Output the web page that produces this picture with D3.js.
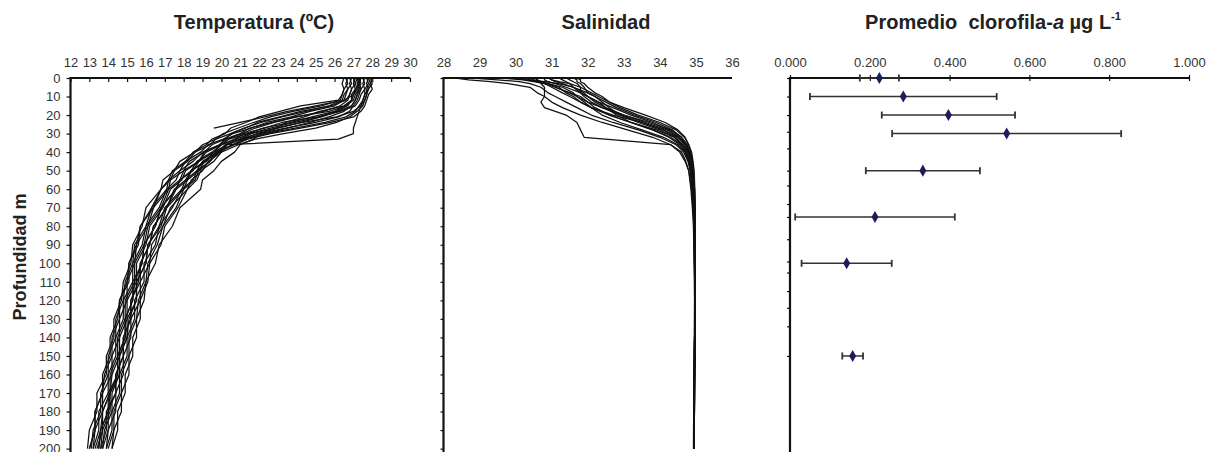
<!DOCTYPE html>
<html><head><meta charset="utf-8">
<script src="https://cdn.jsdelivr.net/npm/d3@7"></script>
<style>
body{margin:0;background:#fff;}
svg{display:block;font-family:"Liberation Sans",Arial,sans-serif;}
</style></head><body>
<svg id="c" width="1211" height="452"></svg>
<script>
// ---------- DATA ----------
const depthTicks = [0,10,20,30,40,50,60,70,80,90,100,110,120,130,140,150,160,170,180,190,200];
const tempTicks = [12,13,14,15,16,17,18,19,20,21,22,23,24,25,26,27,28,29,30];
const salTicks = [28,29,30,31,32,33,34,35,36];
const chlTicks = [0,0.2,0.4,0.6,0.8,1.0];
const chlDepthTicks = [0,10,20,29,38,50,58,68,75,87,99,105,115,124,134,150];

const depthT = [0,3,6,9,12,15,18,21,24,27,30,33,36,40,45,50,55,60,70,80,90,100,110,120,130,140,150,160,170,180,190,200];
const tempProfiles = [
 [26.6,26.7,26.5,26.4,26.2,24.2,23.1,22.0,21.3,20.5,20.2,19.5,19.2,18.5,18.1,17.4,17.2,16.8,16.3,15.7,15.5,15.1,15.1,14.6,14.6,14.2,14.2,13.8,13.7,13.3,13.3,13.0],
 [27.0,27.1,26.9,26.8,26.6,25.8,24.2,23.1,21.9,21.3,20.5,20.2,19.5,19.1,18.3,18.0,17.3,17.2,16.4,16.1,15.5,15.4,15.0,15.0,14.6,14.6,14.2,14.2,13.7,13.7,13.3,13.2],
 [27.3,27.2,27.3,27.1,27.0,26.6,25.7,23.9,22.7,21.5,21.0,20.2,19.9,19.1,18.8,18.0,17.8,17.2,16.8,16.1,15.9,15.4,15.4,14.9,14.9,14.5,14.5,14.1,14.1,13.7,13.6,13.3],
 [27.6,27.5,27.6,27.4,27.3,27.1,26.3,25.1,23.2,22.3,21.2,20.7,20.0,19.6,18.8,18.5,17.8,17.6,16.8,16.5,15.9,15.8,15.3,15.3,14.9,14.9,14.5,14.5,14.1,14.0,13.6,13.5],
 [27.9,28.0,27.8,27.7,27.6,27.4,27.0,26.1,24.3,22.9,21.6,21.0,20.2,19.8,19.0,18.7,18.1,17.9,17.0,16.7,16.1,16.0,15.5,15.5,15.1,15.0,14.6,14.6,14.2,14.2,13.8,13.7],
 [27.8,27.7,27.8,27.6,27.5,27.4,27.3,27.2,27.1,27.0,27.0,26.2,20.3,20.0,19.3,19.0,18.4,18.2,17.3,16.9,16.3,16.2,15.7,15.7,15.2,15.2,14.8,14.8,14.4,14.4,14.0,13.9],
 [27.2,27.3,27.1,27.0,26.9,26.5,25.2,24.4,23.4,22.9,22.1,21.7,21.0,20.7,20.0,19.6,19.0,18.9,17.8,17.4,16.7,16.5,16.0,15.9,15.5,15.5,15.1,15.1,14.7,14.7,14.3,14.2],
 [27.4,27.3,27.2,27.0,26.5,25.0,23.5,22.3,21.0,19.6,null,null,null,null,null,null,null,null,null,null,null,null,null,null,null,null,null,null,null,null,null,null],
 [26.8,26.9,26.7,26.6,26.5,26.0,24.7,23.7,22.4,21.6,20.6,20.1,19.3,18.9,18.1,17.8,17.2,17.1,16.3,16.0,15.4,15.3,14.9,14.8,14.4,14.4,14.0,14.0,13.6,13.6,13.2,13.1],
 [27.1,27.0,27.1,26.9,26.9,26.6,26.0,24.8,23.7,22.2,21.4,20.4,20.0,19.2,18.8,18.1,17.9,17.3,16.9,16.2,16.0,15.5,15.5,15.0,15.0,14.6,14.6,14.2,14.1,13.7,13.7,13.4],
 [27.5,27.6,27.4,27.3,27.2,27.0,26.8,26.2,25.0,23.4,22.0,21.0,20.3,19.6,19.1,18.4,18.1,17.5,17.1,16.4,16.2,15.7,15.6,15.2,15.2,14.8,14.8,14.4,14.4,13.9,13.9,13.6],
 [28.0,27.9,28.0,27.8,27.7,27.6,27.4,27.0,25.8,24.2,22.6,21.4,20.7,19.8,19.4,18.7,18.5,17.9,17.4,16.7,16.5,15.9,15.9,15.4,15.4,15.0,15.0,14.6,14.6,14.2,14.2,13.9],
 [26.5,26.4,26.5,26.4,26.3,25.3,23.8,22.6,21.7,20.9,20.1,19.7,19.0,18.6,17.8,17.5,16.9,16.8,16.0,15.8,15.3,15.2,14.8,14.7,14.3,14.3,13.9,13.9,13.4,13.4,13.0,12.9],
 [27.4,27.3,27.4,27.2,27.1,26.9,26.2,25.3,24.2,23.0,21.9,21.1,20.3,19.9,19.1,18.8,18.2,18.0,17.1,16.8,16.1,16.0,15.5,15.5,15.0,15.0,14.6,14.6,14.1,14.1,13.7,13.6],
 [27.7,27.8,27.6,27.6,27.5,27.3,27.1,26.6,25.5,23.9,22.4,21.3,20.6,19.7,19.2,18.4,18.2,17.6,17.1,16.4,16.2,15.7,15.7,15.2,15.2,14.8,14.8,14.4,14.4,14.0,14.0,13.7],
 [26.9,26.8,26.9,26.8,26.7,26.3,25.4,24.0,22.8,21.8,21.1,20.3,19.9,19.0,18.5,17.8,17.6,17.1,16.7,16.0,15.8,15.3,15.3,14.8,14.8,14.4,14.4,14.0,14.0,13.5,13.5,13.2],
 [27.3,27.4,27.3,27.2,27.1,26.9,26.5,25.7,24.7,23.5,22.3,21.2,20.6,19.8,19.4,18.8,18.6,18.0,17.6,16.9,16.6,16.1,16.0,15.6,15.5,15.1,15.1,14.7,14.7,14.3,14.3,14.0],
 [27.8,27.9,27.7,27.7,27.6,27.5,27.2,26.8,26.1,25.0,23.3,21.8,20.9,20.0,19.6,18.9,18.7,18.2,17.7,17.0,16.8,16.2,16.1,15.7,15.7,15.3,15.3,14.9,14.9,14.5,14.5,14.2],
 [26.7,26.6,26.7,26.5,26.4,25.7,24.5,23.2,22.1,21.2,20.5,19.7,19.4,18.6,18.2,17.5,17.3,16.8,16.4,15.7,15.6,15.1,15.0,14.6,14.5,14.1,14.1,13.7,13.7,13.3,13.3,13.0],
 [27.2,27.1,27.2,27.0,26.9,26.7,26.1,25.2,23.9,22.6,21.5,20.8,20.0,19.5,18.7,18.4,17.8,17.6,16.8,16.5,15.9,15.8,15.4,15.3,14.9,14.9,14.5,14.5,14.0,14.0,13.6,13.5]
];

const depthS = [0,1,2,3,5,8,10,13,16,20,24,28,32,36,40,45,50,60,70,80,100,120,150,200];
const salProfiles = [
 [28.3,28.7,29.3,29.8,30.4,30.6,30.8,31.0,31.3,31.8,32.4,33.1,33.8,34.3,34.6,34.72,34.8,34.86,34.9,34.93,34.95,34.96,34.95,34.93],
 [28.7,29.5,30.1,30.4,30.7,30.9,31.1,31.4,31.7,32.1,32.7,33.4,34.0,34.45,34.66,34.78,34.84,34.9,34.93,34.95,34.96,34.97,34.96,34.95],
 [29.6,30.2,30.5,30.8,31.0,31.3,31.5,31.8,32.1,32.6,33.2,33.8,34.25,34.55,34.7,34.8,34.85,34.9,34.93,34.95,34.96,34.97,34.96,34.94],
 [30.5,30.6,30.7,30.9,31.1,31.5,31.7,32.0,32.4,32.9,33.5,34.1,34.45,34.62,34.75,34.83,34.88,34.92,34.95,34.96,34.97,34.97,34.96,34.95],
 [30.8,30.8,30.9,31.1,31.4,31.8,32.0,32.3,32.7,33.2,33.8,34.25,34.52,34.7,34.8,34.86,34.9,34.95,34.97,34.98,34.98,34.98,34.97,34.95],
 [30.6,30.6,30.7,30.7,30.8,30.8,30.8,30.7,30.8,31.4,31.7,31.8,31.9,34.3,34.55,34.7,34.8,34.88,34.92,34.95,34.96,34.97,34.96,34.94],
 [31.0,31.0,31.1,31.3,31.6,32.0,32.2,32.5,32.8,33.3,33.9,34.35,34.6,34.75,34.83,34.88,34.92,34.96,34.97,34.98,34.98,34.98,34.97,34.95],
 [30.9,31.0,31.2,31.5,31.8,32.1,32.3,32.6,33.0,33.6,34.15,34.5,34.7,34.8,34.86,34.9,34.93,34.96,34.97,34.98,34.98,34.98,34.97,34.95],
 [30.4,30.5,30.6,30.8,31.1,31.5,31.8,32.0,32.2,32.6,33.2,33.9,34.4,34.65,34.78,34.85,34.9,34.94,34.96,34.97,34.97,34.97,34.96,34.94],
 [31.6,31.7,31.7,31.8,31.9,32.0,32.2,32.4,32.6,32.9,33.4,34.0,34.4,34.6,34.72,34.8,34.86,34.92,34.95,34.96,34.97,34.97,34.96,34.95],
 [31.7,31.8,31.8,31.9,32.0,32.2,32.4,32.6,32.9,33.4,34.0,34.45,34.68,34.8,34.88,34.92,34.95,34.97,34.98,34.98,34.98,34.98,34.97,34.95],
 [30.3,30.4,30.6,30.9,31.3,31.6,31.7,31.9,32.1,32.4,32.9,33.5,34.1,34.5,34.7,34.8,34.85,34.9,34.93,34.95,34.96,34.97,34.96,34.94],
 [29.9,30.3,30.6,30.9,31.2,31.4,31.6,31.8,32.1,32.7,33.5,34.1,34.5,34.7,34.8,34.86,34.9,34.93,34.95,34.96,34.97,34.97,34.96,34.94],
 [31.2,31.3,31.4,31.5,31.6,31.8,32.0,32.3,32.5,32.8,33.2,33.8,34.3,34.6,34.75,34.82,34.88,34.93,34.95,34.96,34.97,34.97,34.96,34.95],
 [30.2,30.4,30.8,31.2,31.6,31.9,32.0,32.2,32.5,33.0,33.6,34.2,34.55,34.72,34.82,34.88,34.92,34.95,34.96,34.97,34.97,34.97,34.96,34.95],
 [31.4,31.5,31.6,31.7,31.8,31.8,31.9,32.1,32.4,33.0,33.7,34.3,34.6,34.76,34.84,34.9,34.93,34.96,34.97,34.98,34.98,34.98,34.97,34.95]
];

const chlDepth = [0,10,20,30,50,75,100,150];
const chlMean  = [0.224,0.284,0.397,0.543,0.333,0.213,0.142,0.157];
const chlSD    = [0.049,0.234,0.167,0.287,0.143,0.200,0.113,0.026];

// ---------- CHART ----------
const svg = d3.select("#c");
const AX = "#111", TXT = "#333";
const y = d3.scaleLinear().domain([0,200]).range([78,448.6]);
const xT = d3.scaleLinear().domain([12,30]).range([70.5,410]);
const xS = d3.scaleLinear().domain([28,36]).range([443.5,732]);
const xC = d3.scaleLinear().domain([0,1]).range([790,1189]);
const bottom = 452;

function styleAxis(g){
  g.selectAll("text").attr("fill",TXT).style("font-size","13px").style("font-family",'"Liberation Sans",Arial,sans-serif');
  g.selectAll(".tick line").attr("stroke",AX).attr("stroke-width",1.2);
  g.select(".domain").remove();
}

// Temperature panel
const lineT = d3.line().defined(d=>d[0]!=null).x(d=>xT(d[0])).y(d=>y(d[1]));
svg.append("g").selectAll("path").data(tempProfiles).join("path")
  .attr("d", p => lineT(p.map((v,i)=>[v, depthT[i]])))
  .attr("fill","none").attr("stroke","#111").attr("stroke-width",1.25).attr("stroke-linejoin","round");
svg.append("g").attr("transform","translate(0,78)")
  .call(d3.axisTop(xT).tickValues(tempTicks).tickSizeInner(-4).tickSizeOuter(0).tickPadding(11)).call(styleAxis);
svg.append("g").attr("transform",`translate(${xT(12)},0)`)
  .call(d3.axisLeft(y).tickValues(depthTicks).tickSize(4).tickPadding(6)).call(styleAxis);
svg.append("line").attr("x1",xT(12)).attr("x2",xT(30)).attr("y1",y(0)).attr("y2",y(0)).attr("stroke",AX).attr("stroke-width",2.2);
svg.append("line").attr("x1",xT(12)).attr("x2",xT(12)).attr("y1",y(0)-1).attr("y2",bottom).attr("stroke",AX).attr("stroke-width",2.2);

// Salinity panel
const lineS = d3.line().x(d=>xS(d[0])).y(d=>y(d[1]));
svg.append("g").selectAll("path").data(salProfiles).join("path")
  .attr("d", p => lineS(p.map((v,i)=>[v, depthS[i]])))
  .attr("fill","none").attr("stroke","#111").attr("stroke-width",1.25).attr("stroke-linejoin","round");
svg.append("g").attr("transform","translate(0,78)")
  .call(d3.axisTop(xS).tickValues(salTicks).tickSize(0).tickPadding(11)).call(styleAxis);
svg.append("g").attr("transform",`translate(${xS(28)},0)`)
  .call(d3.axisLeft(y).tickValues(depthTicks).tickSize(3).tickFormat("")).call(styleAxis);
svg.append("line").attr("x1",xS(28)).attr("x2",xS(36)).attr("y1",y(0)).attr("y2",y(0)).attr("stroke",AX).attr("stroke-width",2.2);
svg.append("line").attr("x1",xS(28)).attr("x2",xS(28)).attr("y1",y(0)-1).attr("y2",bottom).attr("stroke",AX).attr("stroke-width",2.2);

// Chlorophyll panel
svg.append("g").attr("transform","translate(0,78)")
  .call(d3.axisTop(xC).tickValues(chlTicks).tickFormat(d3.format(".3f")).tickSizeInner(-3).tickSizeOuter(0).tickPadding(11)).call(styleAxis);
svg.append("g").attr("transform","translate(0,78)")
  .call(d3.axisTop(xC).tickValues(chlTicks).tickFormat("").tickSize(3)).call(styleAxis);
svg.append("g").attr("transform",`translate(${xC(0)},0)`)
  .call(d3.axisLeft(y).tickValues(chlDepthTicks).tickSize(3).tickFormat("")).call(styleAxis);
svg.append("line").attr("x1",xC(0)).attr("x2",xC(1)).attr("y1",y(0)).attr("y2",y(0)).attr("stroke",AX).attr("stroke-width",2.2);
svg.append("line").attr("x1",xC(0)).attr("x2",xC(0)).attr("y1",y(0)-1).attr("y2",bottom).attr("stroke",AX).attr("stroke-width",2.2);

const chl = chlDepth.map((d,i)=>({d, m:chlMean[i], s:chlSD[i]}));
const eb = svg.append("g").selectAll("g").data(chl).join("g");
eb.append("line").attr("x1",d=>xC(d.m-d.s)).attr("x2",d=>xC(d.m+d.s)).attr("y1",d=>y(d.d)).attr("y2",d=>y(d.d))
  .attr("stroke","#333").attr("stroke-width",1.5);
eb.append("line").attr("x1",d=>xC(d.m-d.s)).attr("x2",d=>xC(d.m-d.s)).attr("y1",d=>y(d.d)-3.5).attr("y2",d=>y(d.d)+3.5)
  .attr("stroke","#333").attr("stroke-width",1.8);
eb.append("line").attr("x1",d=>xC(d.m+d.s)).attr("x2",d=>xC(d.m+d.s)).attr("y1",d=>y(d.d)-3.5).attr("y2",d=>y(d.d)+3.5)
  .attr("stroke","#333").attr("stroke-width",1.8);
eb.append("path").attr("d",d3.symbol(d3.symbolDiamond,42))
  .attr("transform",d=>`translate(${xC(d.m)},${y(d.d)})`).attr("fill","#1c1c5a");

// Titles
const tf = '"Liberation Sans",Arial,sans-serif';
svg.append("text").attr("x",254).attr("y",29).attr("text-anchor","middle").attr("font-weight","bold")
  .attr("font-size",20).attr("fill","#222").style("font-family",tf).text("Temperatura (ºC)");
svg.append("text").attr("x",606).attr("y",29).attr("text-anchor","middle").attr("font-weight","bold")
  .attr("font-size",20).attr("fill","#222").style("font-family",tf).text("Salinidad");
const ct = svg.append("text").attr("x",993).attr("y",29).attr("text-anchor","middle").attr("font-weight","bold")
  .attr("font-size",20).attr("fill","#222").style("font-family",tf).style("white-space","pre");
ct.append("tspan").text("Promedio  clorofila-");
ct.append("tspan").attr("font-style","italic").text("a");
ct.append("tspan").text(" µg L");
ct.append("tspan").attr("font-size",11).attr("dy",-9).text("-1");
svg.append("text").attr("transform","translate(26,257) rotate(-90)").attr("text-anchor","middle")
  .attr("font-weight","bold").attr("font-size",18).attr("fill","#222").style("font-family",tf).text("Profundidad m");
</script>
</body></html>
